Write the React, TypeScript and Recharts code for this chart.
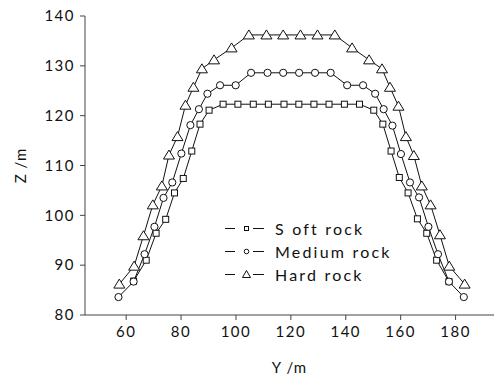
import React from 'react';
import { LineChart, Line, XAxis, YAxis } from 'recharts';

// horizontal position Y (m) and elevation Z (m)
const softY = [62.7, 67.3, 70.9, 74.4, 77.6, 80.8, 83.9, 86.9, 90.2, 95.3, 100.7, 106.3, 111.8, 117.5, 122.9, 128.4, 133.9, 139.5, 145.0, 150.2, 153.5, 156.5, 159.5, 162.7, 166.1, 169.5, 173.1, 177.6];
const softZ = [86.8, 91.0, 96.4, 99.2, 104.5, 107.4, 112.9, 118.3, 121.1, 122.3, 122.3, 122.3, 122.3, 122.3, 122.3, 122.3, 122.3, 122.3, 122.3, 121.1, 118.3, 112.9, 107.6, 104.5, 99.3, 96.4, 91.0, 86.7];

const mediumY = [57.2, 62.7, 66.7, 70.3, 73.6, 76.8, 80.1, 83.4, 86.5, 89.6, 94.2, 99.9, 105.5, 111.5, 117.2, 123.0, 128.8, 134.5, 140.5, 146.3, 150.7, 153.8, 157.0, 160.1, 163.4, 166.7, 170.1, 173.6, 177.6, 183.0];
const mediumZ = [83.6, 86.7, 92.2, 97.7, 103.5, 106.6, 112.4, 118.1, 121.3, 124.4, 126.1, 126.1, 128.6, 128.6, 128.6, 128.6, 128.6, 128.6, 126.1, 126.1, 124.4, 121.3, 118.0, 112.3, 106.6, 103.6, 97.7, 92.2, 86.7, 83.6];

const hardY = [57.5, 62.9, 66.3, 69.7, 73.0, 75.6, 78.7, 81.6, 84.5, 87.6, 92.0, 98.4, 104.7, 111.1, 117.2, 123.5, 129.7, 136.0, 142.3, 148.5, 153.2, 156.1, 159.2, 161.9, 164.8, 167.7, 170.9, 174.3, 177.7, 183.3];
const hardZ = [86.2, 89.8, 95.9, 102.1, 105.9, 112.1, 115.8, 122.1, 125.7, 129.4, 131.2, 133.6, 136.2, 136.2, 136.2, 136.2, 136.2, 136.2, 133.6, 131.2, 129.4, 125.7, 121.9, 115.8, 112.0, 105.9, 102.1, 96.1, 89.8, 86.2];

const seriesNames = ['S oft rock', 'Medium rock', 'Hard rock'];
const xTicks = [60, 80, 100, 120, 140, 160, 180];
const yTicks = [80, 90, 100, 110, 120, 130, 140];

const toPoints = (ys: number[], zs: number[]) => ys.map((y, i) => ({ y, z: zs[i] }));

const FONT = 'Lato, "Open Sans", sans-serif';
const INK = '#111';

const SquareDot = (props: any) => {
  const { cx, cy } = props;
  if (cx == null || cy == null) return null;
  return <rect x={cx - 3} y={cy - 3} width={6} height={6} fill="#fff" stroke={INK} strokeWidth={1} />;
};

const CircleDot = (props: any) => {
  const { cx, cy } = props;
  if (cx == null || cy == null) return null;
  return <circle cx={cx} cy={cy} r={3.6} fill="#fff" stroke={INK} strokeWidth={1} />;
};

const TriangleDot = (props: any) => {
  const { cx, cy } = props;
  if (cx == null || cy == null) return null;
  return (
    <polygon
      points={`${cx},${cy - 5} ${cx - 5.5},${cy + 4} ${cx + 5.5},${cy + 4}`}
      fill="#fff"
      stroke={INK}
      strokeWidth={1}
    />
  );
};

const legendMarks = [
  <rect key="s" x={19.5} y={3.5} width={4} height={4} fill="#fff" stroke={INK} />,
  <circle key="c" cx={21.5} cy={5.5} r={2.3} fill="#fff" stroke={INK} />,
  <polygon key="t" points="21.5,1.5 17.5,8.5 25.5,8.5" fill="#fff" stroke={INK} />,
];

const tickStyle = { fontFamily: FONT, fontSize: 15, fill: INK, letterSpacing: 1.5 };

export default function App() {
  return (
    <div style={{ position: 'absolute', left: 0, top: 0, width: 494, height: 379, background: '#fff' }}>
      <LineChart width={494} height={379} margin={{ top: 16, right: 0, bottom: 0, left: 10 }}>
        <XAxis
          type="number"
          dataKey="y"
          domain={[45, 194]}
          ticks={xTicks}
          allowDataOverflow
          height={64}
          stroke="#444"
          tickSize={5}
          tickMargin={6}
          tick={tickStyle}
          label={{ value: 'Y /m', position: 'insideBottom', offset: 6, style: { fontFamily: FONT, fontSize: 15, fill: INK, letterSpacing: 1 } }}
        />
        <YAxis
          type="number"
          dataKey="z"
          domain={[80, 140]}
          ticks={yTicks}
          width={75}
          stroke="#444"
          tickSize={5}
          tickMargin={5}
          tick={tickStyle}
          label={{ value: 'Z /m', angle: -90, position: 'insideLeft', offset: 11, style: { fontFamily: FONT, fontSize: 15, fill: INK, letterSpacing: 1, textAnchor: 'middle' } }}
        />
        <Line data={toPoints(softY, softZ)} dataKey="z" stroke={INK} strokeWidth={1} dot={<SquareDot />} isAnimationActive={false} />
        <Line data={toPoints(mediumY, mediumZ)} dataKey="z" stroke={INK} strokeWidth={1} dot={<CircleDot />} isAnimationActive={false} />
        <Line data={toPoints(hardY, hardZ)} dataKey="z" stroke={INK} strokeWidth={1} dot={<TriangleDot />} isAnimationActive={false} />
      </LineChart>
      <div style={{ position: 'absolute', left: 225, top: 217, fontFamily: FONT, fontSize: 16, color: INK, letterSpacing: 2.2 }}>
        {seriesNames.map((name, i) => (
          <div key={name} style={{ display: 'flex', alignItems: 'center', height: 23 }}>
            <svg width={50} height={11} style={{ display: 'block' }}>
              <line x1={0} y1={5.5} x2={10} y2={5.5} stroke={INK} />
              {legendMarks[i]}
              <line x1={28} y1={5.5} x2={39} y2={5.5} stroke={INK} />
            </svg>
            <span style={{ lineHeight: '23px' }}>{name}</span>
          </div>
        ))}
      </div>
    </div>
  );
}
